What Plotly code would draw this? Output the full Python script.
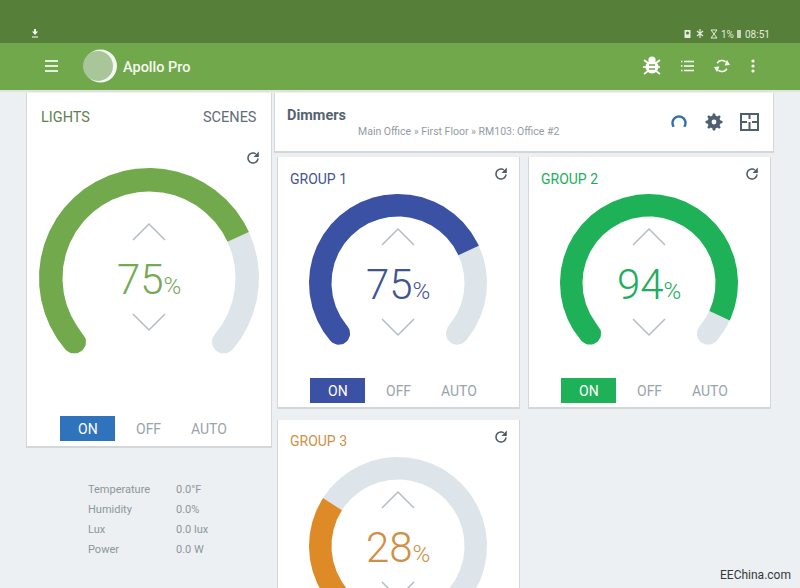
import math
import plotly.graph_objects as go

# ---- data ----
gauge_names = ["LIGHTS", "GROUP 1", "GROUP 2", "GROUP 3"]
gauge_values = [75, 75, 94, 28]
gauge_colors = ["#72a94d", "#3b52a4", "#1fb158", "#de8a27"]
value_colors = ["#74a957", "#3f5491", "#22ad5c", "#cf8f45"]
button_colors = ["#2f73bd", "#3b52a4", "#1fb158"]
button_labels = ["ON", "OFF", "AUTO"]
sensor_labels = ["Temperature", "Humidity", "Lux", "Power"]
sensor_values = ["0.0°F", "0.0%", "0.0 lux", "0.0 W"]
breadcrumb = "Main Office » First Floor » RM103: Office #2"

# ---- layout geometry ----
W, H = 800, 588
FONT = "Roboto"
TRACK = "#dde5ea"
START, SPAN = -130.5, 261.0
centers = [(149, 278, 110, 23.5), (398, 283, 89, 22.5), (649, 283, 89, 22.5), (398, 546, 89, 22.5)]


def pol(cx, cy, r, deg):
    a = math.radians(deg)
    return cx + r * math.sin(a), cy - r * math.cos(a)


def arc_band(cx, cy, ro, th, a0, a1, cap=None):
    """Closed outline of an arc band; cap 'start'/'end' adds a round end."""
    n = max(8, int(abs(a1 - a0) * 1.5))
    ri = ro - th
    rm = ro - th / 2
    pts = [pol(cx, cy, ro, a0 + (a1 - a0) * i / n) for i in range(n + 1)]
    if cap == "end":
        ex, ey = pol(cx, cy, rm, a1)
        b = math.radians(a1 + 90)
        ox, oy = math.sin(b), -math.cos(b)
        rx, ry = math.sin(math.radians(a1)), -math.cos(math.radians(a1))
        for i in range(1, 24):
            c = math.radians(180 * i / 24)
            pts.append((ex + th / 2 * (rx * math.cos(c) + ox * math.sin(c)),
                        ey + th / 2 * (ry * math.cos(c) + oy * math.sin(c))))
    pts += [pol(cx, cy, ri, a1 + (a0 - a1) * i / n) for i in range(n + 1)]
    if cap == "start":
        ex, ey = pol(cx, cy, rm, a0)
        b = math.radians(a0 - 90)
        ox, oy = math.sin(b), -math.cos(b)
        rx, ry = math.sin(math.radians(a0)), -math.cos(math.radians(a0))
        for i in range(1, 24):
            c = math.radians(180 - 180 * i / 24)
            pts.append((ex + th / 2 * (rx * math.cos(c) + ox * math.sin(c)),
                        ey + th / 2 * (ry * math.cos(c) + oy * math.sin(c))))
    pts.append(pts[0])
    return [p[0] for p in pts], [p[1] for p in pts]


fig = go.Figure()
shapes = []
notes = []


def rect(x0, y0, x1, y1, fill):
    shapes.append(dict(type="rect", x0=x0, y0=y0, x1=x1, y1=y1, fillcolor=fill,
                       line=dict(width=0), layer="below"))


def card(x0, y0, x1, y1):
    rect(x0 - 1, y0, x1 + 1, y1 + 2, "#d3d7da")
    rect(x0, y0, x1, y1, "#ffffff")


def stroke(d, color, w=1.5, fill=None):
    s = dict(type="path", path=d, line=dict(color=color, width=w), layer="above")
    if fill:
        s["fillcolor"] = fill
    shapes.append(s)


def fillp(d, color):
    shapes.append(dict(type="path", path=d, fillcolor=color, line=dict(width=0), layer="above"))


def circle(cx, cy, r, color):
    shapes.append(dict(type="circle", x0=cx - r, y0=cy - r, x1=cx + r, y1=cy + r,
                       fillcolor=color, line=dict(width=0), layer="above"))


def text(x, y, s, size, color, anchor="left", weight=400):
    # annotation boxes carry about 2px of padding on the anchored side
    dx = {"left": -2, "right": 2}.get(anchor, 0)
    notes.append(dict(x=x + dx, y=y, text=s, showarrow=False, xanchor=anchor, yanchor="middle",
                      xref="x", yref="y", align=anchor,
                      font=dict(family=FONT, size=size, color=color, weight=weight)))


def arc_path(cx, cy, r, a0, a1):
    pts = [pol(cx, cy, r, a0 + (a1 - a0) * i / 24) for i in range(25)]
    return "M" + " L".join(f"{x:.2f},{y:.2f}" for x, y in pts)


def refresh(cx, cy):
    stroke(arc_path(cx, cy, 5, 95, 395), "#4d5b66", 1.5)
    fillp(f"M{cx+5.8:.1f},{cy-6.5:.1f} L{cx+5.8:.1f},{cy-1:.1f} L{cx+0.5:.1f},{cy-1:.1f} Z", "#4d5b66")


def chevrons(cx, cy):
    stroke(f"M{cx-16},{cy-38} L{cx},{cy-54} L{cx+16},{cy-38}", "#b4bdc3", 1.5)
    stroke(f"M{cx-16},{cy+36} L{cx},{cy+52} L{cx+16},{cy+36}", "#b4bdc3", 1.5)


# ---- page chrome ----
rect(0, 0, W, H, "#edf0f2")
rect(0, 0, W, 43, "#56803a")
rect(0, 43, W, 90, "#72a84c")
rect(0, 90, W, 92, "#dfe3e0")

card(27, 93, 271, 446)
card(275, 93, 773, 151)
card(278, 157, 519, 407)
card(529, 157, 770, 407)
card(278, 420, 519, 600)

# ---- gauges ----
for (cx, cy, r, th), val, col in zip(centers, gauge_values, gauge_colors):
    split = START + SPAN * val / 100
    xs, ys = arc_band(cx, cy, r, th, split, START + SPAN, cap="end")
    fig.add_trace(go.Scatter(x=xs, y=ys, mode="lines", fill="toself", fillcolor=TRACK,
                             line=dict(width=0, color=TRACK), hoverinfo="skip", showlegend=False))
    xs, ys = arc_band(cx, cy, r, th, START, split, cap="start")
    fig.add_trace(go.Scatter(x=xs, y=ys, mode="lines", fill="toself", fillcolor=col,
                             line=dict(width=0, color=col), hoverinfo="skip", showlegend=False))
    chevrons(cx, cy)

for (cx, cy, r, th), val, col in zip(centers, gauge_values, value_colors):
    notes.append(dict(x=cx, y=cy + 1.5, showarrow=False, xanchor="center", yanchor="middle",
                      xref="x", yref="y",
                      text=f'{val}<span style="font-size:24px">%</span>',
                      font=dict(family=FONT, size=42, color=col, weight=300)))

# ---- card titles ----
text(41, 117, gauge_names[0], 14.5, "#5b8250")
text(257, 117, "SCENES", 14.5, "#5f6d78", "right")
text(290, 179, gauge_names[1], 14, value_colors[1])
text(541, 179, gauge_names[2], 14, value_colors[2])
text(290, 441, gauge_names[3], 14, value_colors[3])
text(287, 115, "Dimmers", 14.5, "#55636f", weight=700)
text(358, 131, breadcrumb, 10.5, "#929ca4")

# ---- ON / OFF / AUTO ----
for (bx, by, col) in [(60, 416, button_colors[0]), (310, 378, button_colors[1]), (561, 378, button_colors[2])]:
    rect(bx, by, bx + 55, by + 25, col)
    mid = by + 13
    text(bx + 28, mid, button_labels[0], 14, "#ffffff", "center")
    text(bx + 88, mid, button_labels[1], 14, "#9aa3aa", "center")
    text(bx + 149, mid, button_labels[2], 14, "#9aa3aa", "center")

# ---- sensors ----
for i, (lab, v) in enumerate(zip(sensor_labels, sensor_values)):
    y = 489 + 20 * i
    text(88, y, lab, 11, "#8c969d")
    text(176, y, v, 11, "#8c969d")

# ---- toolbar ----
for y in (61, 66, 71):
    stroke(f"M45,{y} L58,{y}", "#ffffff", 1.6)
circle(100.5, 66, 16.5, "#f4f7f1")
circle(98, 66, 15, "#a9c59a")
text(123, 67, "Apollo Pro", 14.5, "#f4f8f0", weight=500)

# bug
stroke("M644,60 L648,63 M660,60 L656,63 M643,67 L660,67 M644,74 L648,71 M660,74 L656,71", "#ffffff", 1.6)
circle(652, 67, 6.5, "#ffffff")
circle(652, 60, 3.6, "#ffffff")
rect_col = "#72a84c"
stroke("M649,65 L655,65 M649,69 L655,69", rect_col, 1.4)
# list
for y in (61.5, 66, 70.5):
    stroke(f"M681,{y} L682.5,{y} M684,{y} L694,{y}", "#ffffff", 1.6)
# sync
stroke(arc_path(722, 66, 5.5, 300, 400), "#ffffff", 1.6)
stroke(arc_path(722, 66, 5.5, 120, 220), "#ffffff", 1.6)
fillp("M727,60 L730,65 L724.5,65.5 Z", "#ffffff")
fillp("M717,72 L714,67 L719.5,66.5 Z", "#ffffff")
# dots
for y in (61, 66, 71):
    circle(753, y, 1.6, "#ffffff")

# dimmers card icons
stroke(arc_path(679, 123, 6.5, -125, 125), "#336fa8", 2.4)
gear = []
for i in range(48):
    deg = i * 7.5
    rr = 8.5 if (i % 6) in (0, 1, 5) else 6.4
    gear.append(pol(714, 122, rr, deg))
fillp("M" + " L".join(f"{x:.1f},{y:.1f}" for x, y in gear) + " Z", "#4d5f70")
circle(714, 122, 2.4, "#ffffff")
stroke("M741,114 L758,114 L758,130 L741,130 Z M741,122 L747,122 M749.5,114 L749.5,119 M749.5,122 L749.5,130 M752,122 L758,122",
       "#4d5f70", 2)

refresh(253, 158)
refresh(501, 174)
refresh(752, 174)
refresh(501, 437)

# ---- status bar ----
stroke("M35,29 L35,32", "#ffffff", 1.8)
fillp("M32,31.5 L38,31.5 L35,35 Z", "#ffffff")
stroke("M32,37 L38,37", "#ffffff", 1)
fillp("M684.5,30 L690.5,30 L690.5,38 L684.5,38 Z", "#e4ebdf")
circle(687.5, 33, 1.6, "#56803a")
stroke("M700,29 L700,38 M697,31 L703,36 M697,36 L703,31", "#e4ebdf", 1.2)
stroke("M711,30 L717,30 L711,38 L717,38 Z", "#e4ebdf", 1)
text(721, 34, "1%", 10, "#e4ebdf")
fillp("M737,30 L741,30 L741,38 L737,38 Z", "#c8d3c0")
text(745, 34, "08:51", 10, "#e4ebdf")

# ---- watermark ----
text(755, 575, "EEChina.com", 12, "#33393d", "center")

fig.update_layout(
    width=W, height=H, margin=dict(l=0, r=0, t=0, b=0, pad=0),
    paper_bgcolor="#edf0f2", plot_bgcolor="rgba(0,0,0,0)", showlegend=False,
    xaxis=dict(range=[0, W], visible=False, fixedrange=True),
    yaxis=dict(range=[H, 0], visible=False, fixedrange=True),
    shapes=shapes, annotations=notes,
)
fig.write_html("out.html", config={"displayModeBar": False},
               post_script="document.body.style.margin='0';document.body.style.overflow='hidden';")
